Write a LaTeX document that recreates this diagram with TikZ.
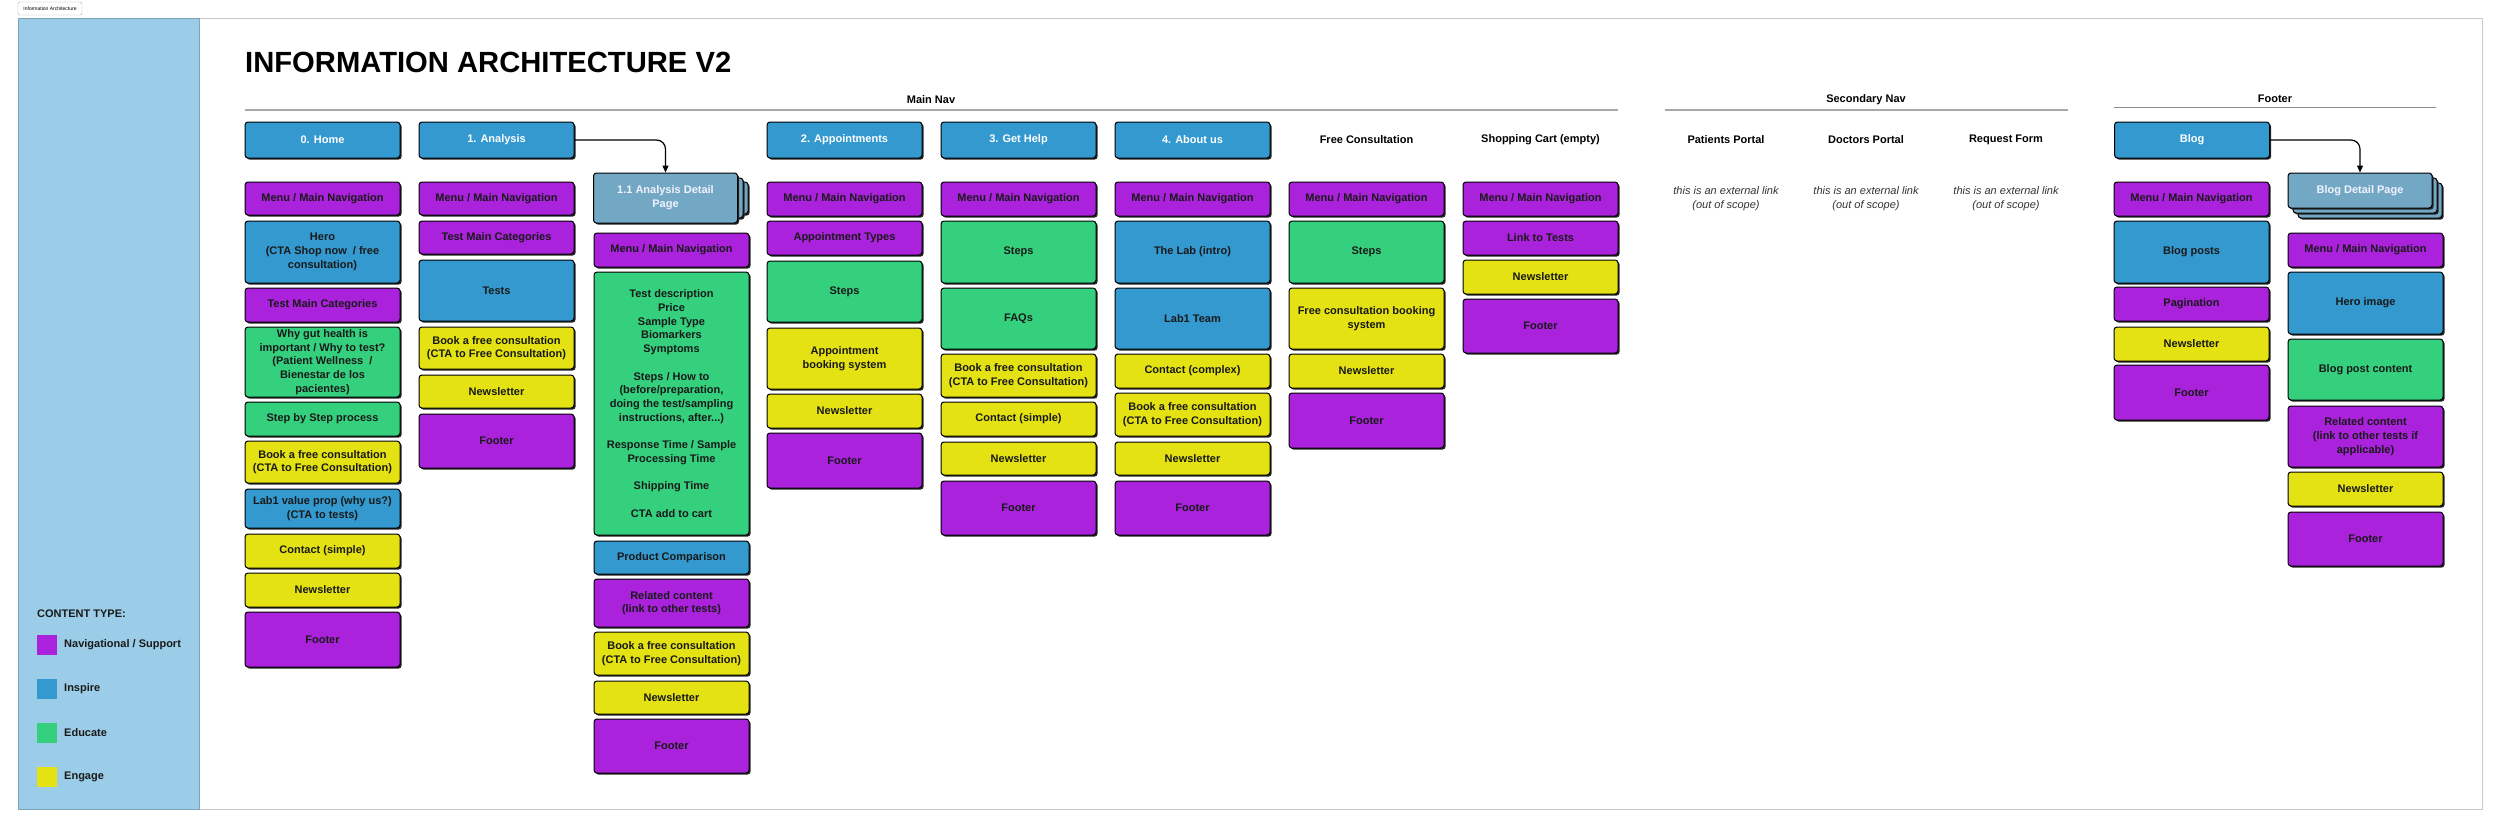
\documentclass[tikz,border=0pt]{standalone}
\usepackage{fontspec}
\setmainfont{Liberation Sans}
\usetikzlibrary{shadows,arrows.meta}
\definecolor{cpur}{HTML}{AA22DC}
\definecolor{cblu}{HTML}{3399CF}
\definecolor{cgrn}{HTML}{34D07E}
\definecolor{cyel}{HTML}{E4E212}
\definecolor{cdet}{HTML}{73A8C4}
\definecolor{cpan}{HTML}{9BCDE8}
\definecolor{cline}{HTML}{A8A8A8}
\tikzset{
 box/.style={draw=black, line width=1pt, rounded corners=3pt, minimum width=155pt, inner sep=2pt, align=center,
   font=\bfseries\fontsize{11}{13.7}\selectfont, text=black!90,
   drop shadow={shadow xshift=1.6pt, shadow yshift=-1.6pt, opacity=1, fill=black!85}},
 hdr/.style={box, fill=cblu, text=white, minimum height=36pt},
 det/.style={box, fill=cdet, text=white!95!blue, minimum width=144pt},
 lbl/.style={font=\bfseries\fontsize{11}{13.7}\selectfont, align=center, inner sep=1pt},
 ital/.style={font=\itshape\fontsize{11}{13.7}\selectfont, align=center, text=black!80, inner sep=1pt},
 secline/.style={draw=cline, line width=1.6pt},
 lsq/.style={minimum size=20pt, inner sep=0pt, draw=none},
 ltxt/.style={anchor=west, font=\bfseries\fontsize{11}{13.7}\selectfont, inner sep=0pt, text=black!90},
 link/.style={draw=black, line width=1.2pt, rounded corners=9pt, -{Triangle[length=7pt,width=6pt]}}
}
\newcommand{\ib}[6]{\node[box,fill=#2,minimum height={#5-#4}] (#1) at ({#3+77.5},{(#4+#5)/2}) {#6};}
\begin{document}
\begin{tikzpicture}[x=1pt,y=-1pt]
\useasboundingbox (0,0) rectangle (2500,828);
\fill[white] (0,0) rectangle (2500,828);
% frame and panel
\draw[draw=black!22, line width=1pt] (18,18) rectangle (2482,809);
\draw[fill=cpan, draw=cpan!80!black, line width=0.8pt] (18,18) rectangle (199,809);
\node[draw=black!30, fill=white, rounded corners=1.5pt, font=\fontsize{5}{6}\selectfont, minimum width=64pt, minimum height=13pt, inner sep=1pt] (tl) at (50,8.5) {Information Architecture};
% title
\node[anchor=base west, font=\bfseries\fontsize{29.2}{35}\selectfont, inner sep=0pt] (title) at (245,72) {INFORMATION ARCHITECTURE V2};
% section labels
\node[lbl] (smain) at (931,100) {Main Nav};
\coordinate (m1) at (245,110); \coordinate (m2) at (1618,110);
\draw[secline] (m1) -- (m2);
\node[lbl] (ssec) at (1866,100) {Secondary Nav};
\coordinate (s1) at (1665,110); \coordinate (s2) at (2068,110);
\draw[secline] (s1) -- (s2);
\node[lbl] (sfoot) at (2275,99) {Footer};
\coordinate (f1) at (2114,107); \coordinate (f2) at (2436,107);
\draw[draw=black!45, line width=1pt] (f1) -- (f2);

% Column 0: Home
\node[hdr] (h0) at (322.5,140) {0. Home};
\ib{c0a}{cpur}{245}{182}{215}{Menu / Main Navigation}
\ib{c0b}{cblu}{245}{221}{283}{Hero\\(CTA Shop now~~/ free\\consultation)}
\ib{c0c}{cpur}{245}{288}{322}{Test Main Categories}
\ib{c0d}{cgrn}{245}{327}{397}{Why gut health is\\important / Why to test?\\(Patient Wellness~~/\\Bienestar de los\\pacientes)}
\ib{c0e}{cgrn}{245}{402}{436}{Step by Step process}
\ib{c0f}{cyel}{245}{441}{483}{Book a free consultation\\(CTA to Free Consultation)}
\ib{c0g}{cblu}{245}{489}{528}{Lab1 value prop (why us?)\\(CTA to tests)}
\ib{c0h}{cyel}{245}{534}{568}{Contact (simple)}
\ib{c0i}{cyel}{245}{573}{607}{Newsletter}
\ib{c0j}{cpur}{245}{612}{667}{Footer}

% Column 1: Analysis
\node[hdr] (h1) at (496.5,140) {1. Analysis};
\ib{c1a}{cpur}{419}{182}{215}{Menu / Main Navigation}
\ib{c1b}{cpur}{419}{221}{254}{Test Main Categories}
\ib{c1c}{cblu}{419}{260}{321}{Tests}
\ib{c1d}{cyel}{419}{327}{369}{Book a free consultation\\(CTA to Free Consultation)}
\ib{c1e}{cyel}{419}{375}{408}{Newsletter}
\ib{c1f}{cpur}{419}{414}{468}{Footer}

% Column 1.1: Analysis detail
\node[det, minimum width=143pt, minimum height=32pt] (adc2) at (676.5,198) {};
\node[det, minimum height=40pt] (adc1) at (671,198) {};
\node[det, minimum height=50pt] (ad) at (665.5,198) {1.1 Analysis Detail\\Page};
\ib{c2a}{cpur}{594}{233}{267}{Menu / Main Navigation}
\ib{c2b}{cgrn}{594}{272}{535}{Test description\\Price\\Sample Type\\Biomarkers\\Symptoms\\[13.7pt]Steps / How to\\(before/preparation,\\doing the test/sampling\\instructions, after...)\\[13.7pt]Response Time / Sample\\Processing Time\\[13.7pt]Shipping Time\\[13.7pt]CTA add to cart}
\ib{c2c}{cblu}{594}{541}{574}{Product Comparison}
\ib{c2d}{cpur}{594}{579}{627}{Related content\\(link to other tests)}
\ib{c2e}{cyel}{594}{632}{675}{Book a free consultation\\(CTA to Free Consultation)}
\ib{c2f}{cyel}{594}{681}{714}{Newsletter}
\ib{c2g}{cpur}{594}{719}{773}{Footer}
\draw[link] (h1.east) -| (ad.north);

% Column 2: Appointments
\node[hdr] (h2) at (844.5,140) {2. Appointments};
\ib{c3a}{cpur}{767}{182}{216}{Menu / Main Navigation}
\ib{c3b}{cpur}{767}{221}{255}{Appointment Types}
\ib{c3c}{cgrn}{767}{261}{322}{Steps}
\ib{c3d}{cyel}{767}{328}{389}{Appointment\\booking system}
\ib{c3e}{cyel}{767}{394}{428}{Newsletter}
\ib{c3f}{cpur}{767}{433}{488}{Footer}

% Column 3: Get Help
\node[hdr] (h3) at (1018.5,140) {3. Get Help};
\ib{c4a}{cpur}{941}{182}{216}{Menu / Main Navigation}
\ib{c4b}{cgrn}{941}{221}{283}{Steps}
\ib{c4c}{cgrn}{941}{288}{349}{FAQs}
\ib{c4d}{cyel}{941}{354}{397}{Book a free consultation\\(CTA to Free Consultation)}
\ib{c4e}{cyel}{941}{402}{436}{Contact (simple)}
\ib{c4f}{cyel}{941}{442}{475}{Newsletter}
\ib{c4g}{cpur}{941}{481}{535}{Footer}

% Column 4: About us
\node[hdr] (h4) at (1192.5,140) {4. About us};
\ib{c5a}{cpur}{1115}{182}{216}{Menu / Main Navigation}
\ib{c5b}{cblu}{1115}{221}{283}{The Lab (intro)}
\ib{c5c}{cblu}{1115}{288}{349}{Lab1 Team}
\ib{c5d}{cyel}{1115}{354}{388}{Contact (complex)}
\ib{c5e}{cyel}{1115}{393}{436}{Book a free consultation\\(CTA to Free Consultation)}
\ib{c5f}{cyel}{1115}{442}{475}{Newsletter}
\ib{c5g}{cpur}{1115}{481}{535}{Footer}

% Free Consultation
\node[lbl] (h5) at (1366.5,140) {Free Consultation};
\ib{c6a}{cpur}{1289}{182}{216}{Menu / Main Navigation}
\ib{c6b}{cgrn}{1289}{221}{283}{Steps}
\ib{c6c}{cyel}{1289}{288}{349}{Free consultation booking\\system}
\ib{c6d}{cyel}{1289}{354}{388}{Newsletter}
\ib{c6e}{cpur}{1289}{393}{448}{Footer}

% Shopping cart
\node[lbl] (h6) at (1540.5,140) {Shopping Cart (empty)};
\ib{c7a}{cpur}{1463}{182}{216}{Menu / Main Navigation}
\ib{c7b}{cpur}{1463}{221}{255}{Link to Tests}
\ib{c7c}{cyel}{1463}{260}{294}{Newsletter}
\ib{c7d}{cpur}{1463}{299}{353}{Footer}

% Secondary nav
\node[lbl] (p1) at (1726,140) {Patients Portal};
\node[ital] (p1t) at (1726,199) {this is an external link\\(out of scope)};
\node[lbl] (p2) at (1866,140) {Doctors Portal};
\node[ital] (p2t) at (1866,199) {this is an external link\\(out of scope)};
\node[lbl] (p3) at (2006,140) {Request Form};
\node[ital] (p3t) at (2006,199) {this is an external link\\(out of scope)};

% Blog
\node[hdr] (hb) at (2192,140) {Blog};
\ib{c8a}{cpur}{2114}{182}{216}{Menu / Main Navigation}
\ib{c8b}{cblu}{2114}{221}{283}{Blog posts}
\ib{c8c}{cpur}{2114}{287}{321}{Pagination}
\ib{c8d}{cyel}{2114}{327}{361}{Newsletter}
\ib{c8e}{cpur}{2114}{365}{420}{Footer}

% Blog detail
\node[det, minimum height=35pt] (bdc2) at (2370,200.5) {};
\node[det, minimum height=35pt] (bdc1) at (2365,195.5) {};
\node[det, minimum height=35pt] (bd) at (2360,190.5) {Blog Detail Page};
\ib{c9a}{cpur}{2288}{233}{267}{Menu / Main Navigation}
\ib{c9b}{cblu}{2288}{272}{334}{Hero image}
\ib{c9c}{cgrn}{2288}{339}{400}{Blog post content}
\ib{c9d}{cpur}{2288}{406}{467}{Related content\\(link to other tests if\\applicable)}
\ib{c9e}{cyel}{2288}{472}{506}{Newsletter}
\ib{c9f}{cpur}{2288}{512}{566}{Footer}
\draw[link] (hb.east) -| (bd.north);

% Legend
\node[ltxt] (lt) at (37,614) {CONTENT TYPE:};
\node[lsq, fill=cpur] (l1) at (47,645) {};
\node[ltxt] (l1t) at (64,645) {Navigational / Support};
\node[lsq, fill=cblu] (l2) at (47,689) {};
\node[ltxt] (l2t) at (64,689) {Inspire};
\node[lsq, fill=cgrn] (l3) at (47,733) {};
\node[ltxt] (l3t) at (64,733) {Educate};
\node[lsq, fill=cyel] (l4) at (47,777) {};
\node[ltxt] (l4t) at (64,777) {Engage};
\end{tikzpicture}
\end{document}
